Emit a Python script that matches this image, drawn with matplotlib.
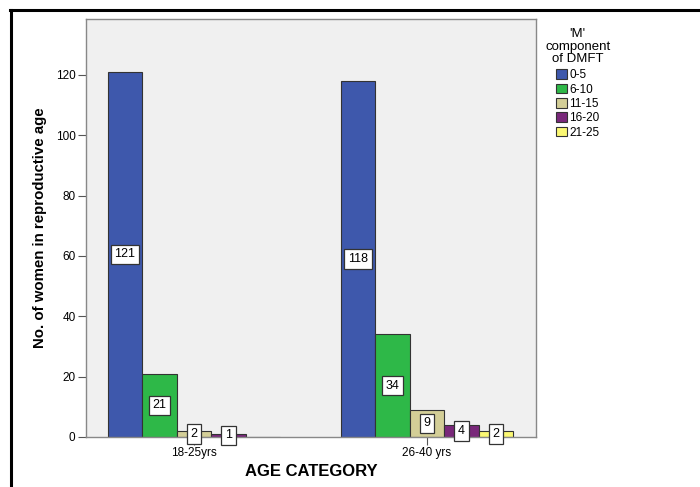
import numpy as np
import matplotlib
matplotlib.use('Agg')
import matplotlib.pyplot as plt
from matplotlib.patches import Patch
from matplotlib.lines import Line2D

# data
age_groups = ['18-25yrs', '26-40 yrs']
m_categories = ['0-5', '6-10', '11-15', '16-20', '21-25']
counts = {
    '0-5': [121, 118],
    '6-10': [21, 34],
    '11-15': [2, 9],
    '16-20': [1, 4],
    '21-25': [0, 2],
}
colors = ['#3e58ac', '#2eb848', '#d3ce97', '#79287a', '#fbf873']

plt.rcParams['font.family'] = ['Liberation Sans', 'DejaVu Sans']

fig = plt.figure(figsize=(7, 4.87), dpi=100)
ax = fig.add_axes([0.1229, 0.1027, 0.6429, 0.8583])
ax.set_facecolor('#f0f0f0')

x = np.arange(len(age_groups))
w = 0.148
for i, cat in enumerate(m_categories):
    pos = x + (i - 2) * w
    vals = counts[cat]
    ax.bar(pos, vals, width=w, color=colors[i], edgecolor='#333333', linewidth=0.8, zorder=2)
    for p, v in zip(pos, vals):
        if v > 0:
            ax.text(p, v / 2, str(v), ha='center', va='center', fontsize=9, zorder=4,
                    bbox=dict(boxstyle='square,pad=0.3', fc='white', ec='#333333', lw=0.9))

ax.set_xlim(-0.4635, 1.468)
ax.set_ylim(0, 138.5)
ax.set_yticks([0, 20, 40, 60, 80, 100, 120])
ax.set_xticks(x)
ax.set_xticklabels(age_groups)
ax.tick_params(axis='both', direction='out', length=6, width=0.8, color='#555555',
               labelsize=8.5, pad=1.5)
ax.tick_params(axis='x', pad=1)
for s in ax.spines.values():
    s.set_color('#888888')
    s.set_linewidth(1.0)

ax.set_xlabel('AGE CATEGORY', fontsize=12, fontweight='bold', labelpad=4)
ax.set_ylabel('No. of women in reproductive age', fontsize=10.8, fontweight='bold', labelpad=6)

# legend
handles = [Patch(facecolor=c, edgecolor='#333333', linewidth=0.8) for c in colors]
leg = fig.legend(handles, m_categories, title="'M'\ncomponent\nof DMFT",
                 loc='upper left', bbox_to_anchor=(0.772, 0.952), frameon=False,
                 fontsize=8.5, title_fontsize=9.5, handlelength=0.9, handleheight=0.9,
                 handletextpad=0.2, labelspacing=0.2, borderaxespad=0,
                 alignment='center')
leg.get_title().set_multialignment('center')
leg.get_title().set_linespacing(1.05)
leg._legend_box.sep = 3

# outer frame lines (top and left only)
fig.add_artist(Line2D([10 / 700, 1.0], [1 - 10 / 487, 1 - 10 / 487], color='black', lw=2.2))
fig.add_artist(Line2D([11 / 700, 11 / 700], [0, 1 - 10 / 487], color='black', lw=2.2))

fig.savefig('out.png', dpi=100, facecolor='white')
